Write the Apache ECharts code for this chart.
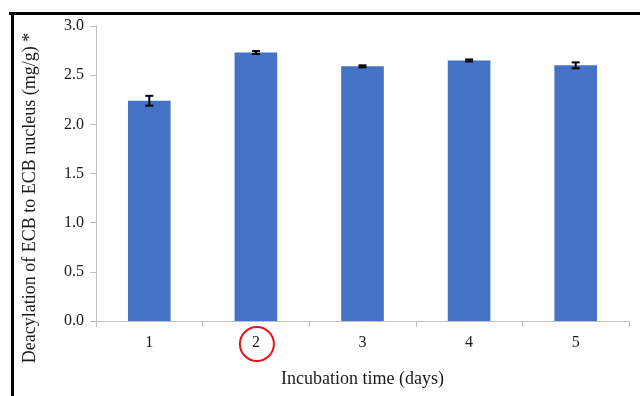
<!DOCTYPE html>
<html><head><meta charset="utf-8">
<script src="https://cdn.jsdelivr.net/npm/echarts@6/dist/echarts.min.js"></script>
<style>html,body{margin:0;padding:0;background:#fff}#c{width:640px;height:396px}</style>
</head><body><div id="c"></div>
<script>
var days = ['1','2','3','4','5'];
var values = [2.24, 2.73, 2.59, 2.65, 2.60];
var errors = [0.05, 0.015, 0.01, 0.01, 0.03];
var yTicks = [0, 0.5, 1.0, 1.5, 2.0, 2.5, 3.0];
var highlightDay = '2';

var chart = echarts.init(document.getElementById('c'));
var serif = '"Liberation Serif", "DejaVu Serif", serif';
var errData = values.map(function (v, i) { return [i, v - errors[i], v + errors[i]]; });

chart.setOption({
  animation: false,
  grid: { left: 96, right: 11, top: 26, bottom: 75 },
  xAxis: {
    type: 'category', data: days,
    axisLine: { lineStyle: { color: '#bfbfbf', width: 1 } },
    axisTick: { show: true, length: 6, lineStyle: { color: '#bfbfbf' } },
    axisLabel: { fontFamily: serif, fontSize: 16, color: '#1a1a1a', margin: 14 },
    name: 'Incubation time (days)', nameLocation: 'middle', nameGap: 49,
    nameTextStyle: { fontFamily: serif, fontSize: 18, color: '#1a1a1a' }
  },
  yAxis: {
    type: 'value', min: 0, max: 3, interval: 0.5,
    axisLine: { show: true, lineStyle: { color: '#bfbfbf', width: 1 } },
    axisTick: { show: true, length: 6, lineStyle: { color: '#bfbfbf' } },
    splitLine: { show: false },
    axisLabel: { fontFamily: serif, fontSize: 16, color: '#1a1a1a', margin: 12,
      formatter: function (v) { return v.toFixed(1); } }
  },
  series: [
    { type: 'bar', data: values, barWidth: '40%', itemStyle: { color: '#4472C4' } },
    { type: 'custom', data: errData, z: 10,
      renderItem: function (params, api) {
        var x = api.value(0);
        var lo = api.coord([x, api.value(1)]);
        var hi = api.coord([x, api.value(2)]);
        var w = 4;
        var st = { stroke: '#000', lineWidth: 2 };
        return { type: 'group', children: [
          { type: 'line', shape: { x1: lo[0], y1: lo[1], x2: hi[0], y2: hi[1] }, style: st },
          { type: 'line', shape: { x1: lo[0] - w, y1: lo[1], x2: lo[0] + w, y2: lo[1] }, style: st },
          { type: 'line', shape: { x1: hi[0] - w, y1: hi[1], x2: hi[0] + w, y2: hi[1] }, style: st }
        ]};
      }
    }
  ]
});

var idx = days.indexOf(highlightDay);
var p = chart.convertToPixel({ gridIndex: 0 }, [idx, 0]);
chart.setOption({ graphic: [
  { type: 'line', shape: { x1: 9, y1: 13.5, x2: 640, y2: 13.5 }, style: { stroke: '#000', lineWidth: 3 } },
  { type: 'line', shape: { x1: 12.5, y1: 12, x2: 12.5, y2: 396 }, style: { stroke: '#000', lineWidth: 3 } },
  { type: 'text', x: 30, y: 198, rotation: Math.PI / 2, style: {
      text: 'Deacylation of ECB to ECB nucleus (mg/g) *', fontFamily: serif, fontSize: 18,
      fill: '#1a1a1a', textAlign: 'center', textVerticalAlign: 'middle' } },
  { type: 'circle', shape: { cx: p[0] + 1, cy: p[1] + 23, r: 17 }, style: { fill: 'none', stroke: '#e8141c', lineWidth: 2 } }
] });
</script></body></html>
